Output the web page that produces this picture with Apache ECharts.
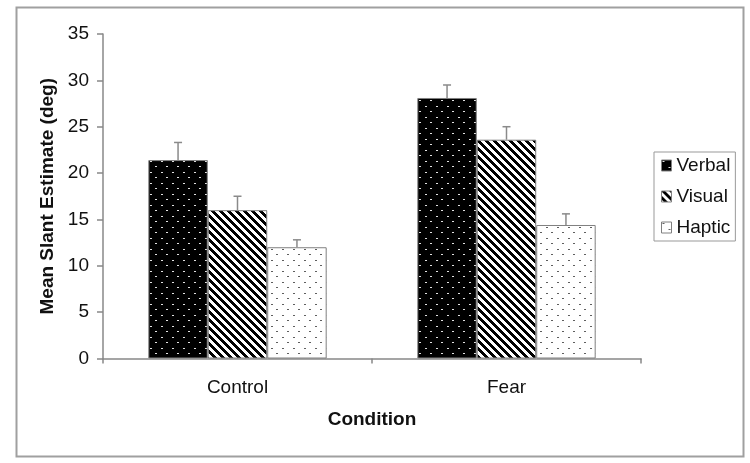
<!DOCTYPE html>
<html>
<head>
<meta charset="utf-8">
<script src="https://cdn.jsdelivr.net/npm/echarts@6/dist/echarts.min.js"></script>
<style>
html,body{margin:0;padding:0;background:#fff;}
#c{width:750px;height:463px;}
</style>
</head>
<body>
<div id="c"></div>
<script>
// ---- data ----
var categories = ['Control', 'Fear'];
var seriesNames = ['Verbal', 'Visual', 'Haptic'];
var verbal = [21.4, 28.1];
var verbalErr = [1.9, 1.4];
var visual = [16.0, 23.6];
var visualErr = [1.5, 1.4];
var haptic = [12.0, 14.4];
var hapticErr = [0.8, 1.2];
var yTicks = [0, 5, 10, 15, 20, 25, 30, 35];

// ---- patterns ----
function makeCanvas(w, h, fn) {
  var cv = document.createElement('canvas');
  cv.width = w; cv.height = h;
  var ctx = cv.getContext('2d');
  var img = ctx.createImageData(w, h);
  for (var y = 0; y < h; y++) {
    for (var x = 0; x < w; x++) {
      var c = fn(x, y);
      var i = (y * w + x) * 4;
      img.data[i] = c; img.data[i + 1] = c; img.data[i + 2] = c; img.data[i + 3] = 255;
    }
  }
  ctx.putImageData(img, 0, 0);
  return cv;
}
function dotAt(x, y) {
  if (y === 1 && (x === 1 || x === 2)) return true;
  if (y === 7 && (x === 7 || x === 8)) return true;
  return false;
}
var verbalPat = makeCanvas(11, 11, function (x, y) { return dotAt(x, y) ? 225 : 0; });
var hapticPat = makeCanvas(11, 11, function (x, y) { return dotAt(x, y) ? 95 : 255; });
var visualPat = makeCanvas(8, 8, function (x, y) { return (((x - y) % 8) + 8) % 8 < 4 ? 0 : 255; });

var patterns = [
  { image: verbalPat, repeat: 'repeat' },
  { image: visualPat, repeat: 'repeat' },
  { image: hapticPat, repeat: 'repeat' }
];
var values = [verbal, visual, haptic];
var errs = [verbalErr, visualErr, hapticErr];
var GAP = 0.337;

var series = [];
for (var k = 0; k < 3; k++) {
  series.push({
    name: seriesNames[k],
    type: 'bar',
    data: values[k],
    barGap: '0%',
    barCategoryGap: (GAP * 100) + '%',
    itemStyle: { color: patterns[k], borderColor: '#808080', borderWidth: 1 },
    emphasis: { disabled: true },
    animation: false
  });
}
for (var k2 = 0; k2 < 3; k2++) {
  (function (k) {
    series.push({
      type: 'custom',
      name: seriesNames[k] + ' err',
      z: 5,
      animation: false,
      silent: true,
      data: values[k].map(function (v, i) { return [i, v, errs[k][i]]; }),
      encode: { x: 0, y: 1 },
      renderItem: function (params, api) {
        var ci = api.value(0), v = api.value(1), e = api.value(2);
        var base = api.coord([ci, v]);
        var top = api.coord([ci, v + e]);
        var band = api.size([1, 0])[0];
        var bw = band * (1 - GAP) / 3;
        var x = base[0] + (k - 1) * bw;
        var cap = 4;
        var st = { stroke: '#8a8a8a', lineWidth: 1.5 };
        return {
          type: 'group',
          children: [
            { type: 'line', shape: { x1: x, y1: base[1], x2: x, y2: top[1] }, style: st },
            { type: 'line', shape: { x1: x - cap, y1: top[1], x2: x + cap, y2: top[1] }, style: st }
          ]
        };
      }
    });
  })(k2);
}

var chart = echarts.init(document.getElementById('c'), null, { renderer: 'canvas' });
chart.setOption({
  animation: false,
  backgroundColor: '#fff',
  textStyle: { fontFamily: 'Liberation Sans, Arial, sans-serif' },
  grid: { left: 103, right: 109, top: 34, bottom: 104.5, containLabel: false, outerBoundsMode: 'none' },
  legend: {
    data: seriesNames,
    orient: 'vertical',
    left: 654,
    top: 152,
    padding: [4, 5, 4, 7],
    itemGap: 12,
    itemWidth: 10,
    itemHeight: 11,
    icon: 'rect',
    itemStyle: { borderColor: '#808080', borderWidth: 1 },
    borderColor: '#999',
    borderWidth: 1,
    textStyle: { fontSize: 19, color: '#111' },
    selectedMode: false
  },
  xAxis: {
    type: 'category',
    data: categories,
    name: 'Condition',
    nameLocation: 'middle',
    nameGap: 52,
    nameTextStyle: { fontSize: 19, fontWeight: 'bold', color: '#111' },
    axisLine: { lineStyle: { color: '#888', width: 1.5 } },
    axisTick: { show: true, length: 5, lineStyle: { color: '#888', width: 1.5 } },
    axisLabel: { fontSize: 19, color: '#111', margin: 20 },
    splitLine: { show: false }
  },
  yAxis: {
    type: 'value',
    min: yTicks[0],
    max: yTicks[yTicks.length - 1],
    interval: yTicks[1] - yTicks[0],
    name: 'Mean Slant Estimate (deg)',
    nameLocation: 'middle',
    nameGap: 46,
    nameTextStyle: { fontSize: 19, fontWeight: 'bold', color: '#111' },
    axisLine: { show: true, lineStyle: { color: '#888', width: 1.5 } },
    axisTick: { show: true, length: 6, lineStyle: { color: '#888', width: 1.5 } },
    axisLabel: { fontSize: 19, color: '#111', margin: 14 },
    splitLine: { show: false }
  },
  graphic: [{
    type: 'rect',
    left: 14, top: 5,
    shape: { width: 727, height: 449 },
    style: { fill: 'none', stroke: '#a0a0a0', lineWidth: 2 },
    silent: true,
    z: 100
  }],
  series: series
});
</script>
</body>
</html>
